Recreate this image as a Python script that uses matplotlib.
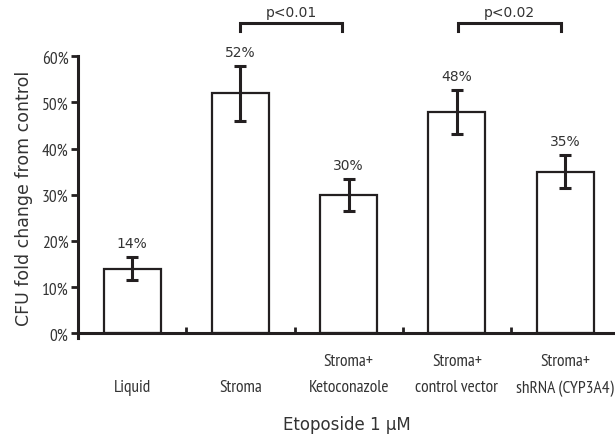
import numpy as np
import matplotlib
matplotlib.use("Agg")
import matplotlib.pyplot as plt
from matplotlib import font_manager

# values
groups = ["Liquid", "Stroma", "Stroma+\nKetoconazole", "Stroma+\ncontrol vector", "Stroma+\nshRNA (CYP3A4)"]
values = [14, 52, 30, 48, 35]
errors = [2.5, 6.0, 3.4, 4.8, 3.6]
value_labels = ["14%", "52%", "30%", "48%", "35%"]
# significance brackets: (left, right, text)
brackets = [(1.0, 1.94, "p<0.01"), (3.01, 3.96, "p<0.02")]

ink = "#231f20"
txt = "#333333"

# a narrow face for the tick labels, whichever is around
installed = {f.name for f in font_manager.fontManager.ttflist}
narrow = "Liberation Sans"
for cand in ["PT Sans Narrow", "Archivo Narrow", "Roboto Condensed", "Open Sans Condensed",
             "Asap Condensed", "Liberation Sans Narrow"]:
    if cand in installed:
        narrow = cand
        break

fig = plt.figure(figsize=(6.15, 4.39), dpi=100)
ax = fig.add_axes([0.1268, 0.2276, 0.8732, 0.6419])

x = np.arange(len(groups))
ax.bar(x, values, width=0.527, color="white", edgecolor=ink, linewidth=1.6, zorder=2)
ax.errorbar(x, values, yerr=errors, fmt="none", ecolor=ink, elinewidth=2.2,
            capsize=4.5, capthick=2.2, zorder=3)

# percent labels above the error bars
for xi, v, e, lab in zip(x, values, errors, value_labels):
    ax.annotate(lab, (xi, v + e), xytext=(0, 5), textcoords="offset points",
                ha="center", va="bottom", fontsize=10, color=txt, family="DejaVu Sans")

# brackets
for x0, x1, lab in brackets:
    ax.plot([x0, x0, x1, x1], [65.4, 67.3, 67.3, 65.4], color=ink, lw=2.2,
            solid_joinstyle="miter", clip_on=False)
    ax.text((x0 + x1) / 2, 69.6, lab, ha="center", va="center", fontsize=10,
            color=txt, family="DejaVu Sans")

ax.set_xlim(-0.5, 4.46)
ax.set_ylim(-1, 60)

for s in ["top", "right"]:
    ax.spines[s].set_visible(False)
ax.spines["bottom"].set_position(("data", 0))
ax.spines["left"].set_bounds(-1, 60)
for s in ["left", "bottom"]:
    ax.spines[s].set_linewidth(2.2)
    ax.spines[s].set_color(ink)

ax.set_yticks(np.arange(0, 61, 10))
ax.set_yticklabels([f"{t}%" for t in range(0, 61, 10)], family=narrow, fontsize=12.5, color=txt)
ax.tick_params(axis="y", direction="out", length=5, width=2, color=ink, pad=2)

ax.set_xticks(x)
ax.set_xticklabels(["\n" + g if "\n" not in g else g for g in groups],
                   family=narrow, fontsize=12.5, color=txt, linespacing=1.85)
ax.tick_params(axis="x", which="major", length=0, pad=14)
ax.set_xticks(np.arange(0.5, 4.5, 1), minor=True)
ax.tick_params(axis="x", which="minor", direction="in", length=4, width=2, color=ink)

ax.set_ylabel("CFU fold change from control", fontsize=12.5, color=txt,
              family="DejaVu Sans", labelpad=6)
fig.text(347 / 615, 1 - 425 / 439, "Etoposide 1 \u03bcM", ha="center", va="center",
         fontsize=12, color=txt, family="DejaVu Sans")

fig.savefig("out.png", dpi=100)
